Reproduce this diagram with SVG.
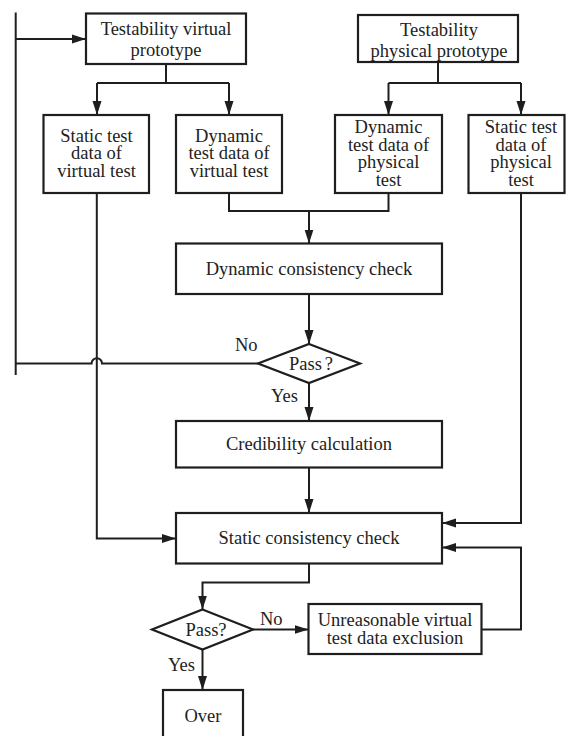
<svg xmlns="http://www.w3.org/2000/svg" width="566" height="736" viewBox="0 0 566 736">
<style>
  .box { fill: #ffffff; stroke: #1e1e1e; stroke-width: 2.2; }
  .ln { fill: none; stroke: #1e1e1e; stroke-width: 2; }
  .arr { fill: none; stroke: #1e1e1e; stroke-width: 2; marker-end: url(#ah); }
  text { font-family: "Liberation Serif", "Times New Roman", serif; font-size: 18.5px; fill: #222222; }
  .c { text-anchor: middle; }
</style>
<defs>
  <marker id="ah" markerUnits="userSpaceOnUse" markerWidth="14" markerHeight="10" refX="14" refY="5" orient="auto">
    <path d="M0,0.5 L14,5 L0,9.5 z" fill="#1e1e1e"/>
  </marker>
</defs>
<rect width="566" height="736" fill="#ffffff"/>

<g id="connectors">
  <path class="ln" d="M166,64 V83 M97,83 H229 M438,62 V83 M388.5,83 H521"/>
  <path class="arr" d="M97,83 V115"/>
  <path class="arr" d="M229,83 V115"/>
  <path class="arr" d="M388.5,83 V115"/>
  <path class="arr" d="M521,83 V115"/>
  <path class="ln" d="M229,193 V211 H388.5 V193"/>
  <path class="arr" d="M309,211 V243.5"/>
  <path class="arr" d="M309,294 V344"/>
  <path class="ln" d="M15.7,12.5 V375"/>
  <path class="ln" d="M258,363.5 H102 A5.2,5.2 0 0 0 91.6,363.5 H15.7"/>
  <path class="arr" d="M15.7,39 H86"/>
  <path class="arr" d="M309,383 V421"/>
  <path class="arr" d="M309,467.5 V513"/>
  <path class="arr" d="M96.8,193 V538.5 H176"/>
  <path class="arr" d="M521,193 V523 H442"/>
  <path class="arr" d="M481.5,629.5 H521 V547.5 H442"/>
  <path class="arr" d="M309,563.5 V582.5 H202.5 V609.5"/>
  <path class="arr" d="M253,629.5 H308.5"/>
  <path class="arr" d="M202.5,649.5 V690"/>
  <text x="235" y="351">No</text>
  <text x="271" y="402">Yes</text>
  <text x="260" y="625">No</text>
  <text x="168" y="671">Yes</text>
</g>

<g id="n_tvp">
  <rect class="box" x="86" y="13.5" width="160" height="50.5"/>
  <text class="c" x="166" y="35">Testability virtual</text>
  <text class="c" x="166" y="56">prototype</text>
</g>
<g id="n_tpp">
  <rect class="box" x="358" y="15" width="160" height="47"/>
  <text class="c" x="439" y="35.5">Testability</text>
  <text class="c" x="439" y="56.5">physical prototype</text>
</g>
<g id="n_svt">
  <rect class="box" x="43.5" y="115" width="105.5" height="78"/>
  <text class="c" x="96.5" y="141.5">Static test</text>
  <text class="c" x="96.5" y="159">data of</text>
  <text class="c" x="96.5" y="177">virtual test</text>
</g>
<g id="n_dvt">
  <rect class="box" x="176" y="115" width="106" height="78"/>
  <text class="c" x="229" y="141.5">Dynamic</text>
  <text class="c" x="229" y="159">test data of</text>
  <text class="c" x="229" y="177">virtual test</text>
</g>
<g id="n_dpt">
  <rect class="box" x="335" y="115" width="107" height="78"/>
  <text class="c" x="388.5" y="132.5">Dynamic</text>
  <text class="c" x="388.5" y="150.5">test data of</text>
  <text class="c" x="388.5" y="167.5">physical</text>
  <text class="c" x="388.5" y="185.5">test</text>
</g>
<g id="n_spt">
  <rect class="box" x="468.5" y="115" width="96" height="78"/>
  <text class="c" x="521" y="132.5">Static test</text>
  <text class="c" x="521" y="150.5">data of</text>
  <text class="c" x="521" y="167.5">physical</text>
  <text class="c" x="521" y="185.5">test</text>
</g>
<g id="n_dcc">
  <rect class="box" x="176" y="243.5" width="266" height="50.5"/>
  <text class="c" x="309" y="275">Dynamic consistency check</text>
</g>
<g id="n_pass1">
  <polygon class="box" points="309,344 360,363.5 309,383 258,363.5"/>
  <text class="c" x="311" y="369.5">Pass<tspan dx="3">?</tspan></text>
</g>
<g id="n_cc">
  <rect class="box" x="176" y="421" width="266" height="46.5"/>
  <text class="c" x="309" y="449.5">Credibility calculation</text>
</g>
<g id="n_scc">
  <rect class="box" x="176" y="513" width="266" height="50.5"/>
  <text class="c" x="309" y="544">Static consistency check</text>
</g>
<g id="n_pass2">
  <polygon class="box" points="202.5,609.5 253,629.5 202.5,649.5 152,629.5"/>
  <text class="c" x="206" y="636">Pass?</text>
</g>
<g id="n_utde">
  <rect class="box" x="308.5" y="604" width="173" height="50"/>
  <text class="c" x="395" y="625.5">Unreasonable virtual</text>
  <text class="c" x="395" y="644">test data exclusion</text>
</g>
<g id="n_over">
  <rect class="box" x="163" y="690" width="80" height="60"/>
  <text class="c" x="203" y="721.5">Over</text>
</g>
</svg>
